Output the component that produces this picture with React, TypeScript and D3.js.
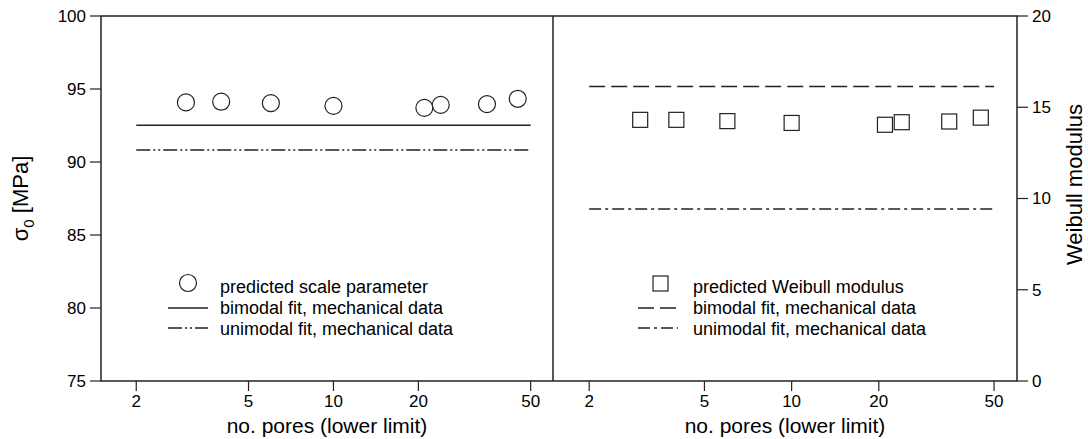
import React from 'react';
import * as d3 from 'd3';

// pore count lower limits and predicted Weibull parameters
const poreCounts = [3, 4, 6, 10, 21, 24, 35, 45];
const scaleParam = [94.08, 94.13, 94.03, 93.84, 93.71, 93.91, 93.96, 94.33];
const weibullModulus = [14.31, 14.31, 14.24, 14.14, 14.04, 14.18, 14.22, 14.43];

// fits to the mechanical data (constant over the pore range)
const fitRange = [2, 50];
const bimodalScale = [92.52, 92.52];
const unimodalScale = [90.82, 90.82];
const bimodalModulus = [16.14, 16.14];
const unimodalModulus = [9.42, 9.42];

const xTicks = [2, 5, 10, 20, 50];
const leftTicks = [75, 80, 85, 90, 95, 100];
const rightTicks = [0, 5, 10, 15, 20];

const FONT = '"Liberation Sans", Arial, Helvetica, sans-serif';
const INK = '#222';

const top = 16;
const bottom = 381;
const x0 = 101;
const xMid = 553;
const x1 = 1017;

const App = () => {
  const xLeft = d3.scaleLog().domain([1.5, 60]).range([x0, xMid]);
  const xRight = d3.scaleLog().domain([1.5, 60]).range([xMid, x1]);
  const yLeft = d3.scaleLinear().domain([75, 100]).range([bottom, top]);
  const yRight = d3.scaleLinear().domain([0, 20]).range([bottom, top]);

  const lineL = d3.line<[number, number]>().x(d => xLeft(d[0])).y(d => yLeft(d[1]));
  const lineR = d3.line<[number, number]>().x(d => xRight(d[0])).y(d => yRight(d[1]));
  const pairs = (ys: number[]) => fitRange.map((x, i) => [x, ys[i]] as [number, number]);

  const sq = 15;

  return (
    <svg width={1088} height={439} style={{ position: 'absolute', left: 0, top: 0, background: '#fff' }}
      fontFamily={FONT}>
      {/* frame */}
      <g stroke={INK} strokeWidth={1.5} fill="none">
        <rect x={x0} y={top} width={x1 - x0} height={bottom - top} />
        <line x1={xMid} x2={xMid} y1={top} y2={bottom} />
      </g>

      {/* left y axis */}
      {leftTicks.map(t => (
        <g key={'l' + t}>
          <line x1={x0 - 11} x2={x0} y1={yLeft(t)} y2={yLeft(t)} stroke={INK} strokeWidth={1.2} />
          <text x={x0 - 15} y={yLeft(t)} dy="0.35em" textAnchor="end" fontSize={17}>{t}</text>
        </g>
      ))}

      {/* right y axis */}
      {rightTicks.map(t => (
        <g key={'r' + t}>
          <line x1={x1} x2={x1 + 11} y1={yRight(t)} y2={yRight(t)} stroke={INK} strokeWidth={1.2} />
          <text x={x1 + 15} y={yRight(t)} dy="0.35em" textAnchor="start" fontSize={17}>{t}</text>
        </g>
      ))}

      {/* x axes */}
      {[xLeft, xRight].map((xs, k) => (
        <g key={'x' + k}>
          {xTicks.map(t => (
            <g key={t}>
              <line x1={xs(t)} x2={xs(t)} y1={bottom} y2={bottom + 10} stroke={INK} strokeWidth={1.2} />
              <text x={xs(t)} y={bottom + 20} dy="0.35em" textAnchor="middle" fontSize={17}>{t}</text>
            </g>
          ))}
          <text x={(xs.range()[0] + xs.range()[1]) / 2} y={433} textAnchor="middle" fontSize={21}>
            no. pores (lower limit)
          </text>
        </g>
      ))}

      {/* axis titles */}
      <text transform={`translate(28,${(top + bottom) / 2}) rotate(-90)`} textAnchor="middle" fontSize={22}>
        σ<tspan fontSize={15} dy={6}>0</tspan><tspan dy={-6}> [MPa]</tspan>
      </text>
      <text transform={`translate(1082,${(top + bottom) / 2 - 14}) rotate(-90)`} textAnchor="middle" fontSize={22}>
        Weibull modulus
      </text>

      {/* left panel data */}
      <path d={lineL(pairs(bimodalScale)) ?? ''} stroke={INK} strokeWidth={1.5} fill="none" />
      <path d={lineL(pairs(unimodalScale)) ?? ''} stroke={INK} strokeWidth={1.5} fill="none"
        strokeDasharray="14 3 2 3 2 3" />
      {poreCounts.map((p, i) => (
        <circle key={'c' + i} cx={xLeft(p)} cy={yLeft(scaleParam[i])} r={8.5} fill="none" stroke={INK} strokeWidth={1.2} />
      ))}

      {/* right panel data */}
      <path d={lineR(pairs(bimodalModulus)) ?? ''} stroke={INK} strokeWidth={1.5} fill="none"
        strokeDasharray="16 6" />
      <path d={lineR(pairs(unimodalModulus)) ?? ''} stroke={INK} strokeWidth={1.5} fill="none"
        strokeDasharray="12 4 3 4" />
      {poreCounts.map((p, i) => (
        <rect key={'s' + i} x={xRight(p) - sq / 2} y={yRight(weibullModulus[i]) - sq / 2} width={sq} height={sq}
          fill="none" stroke={INK} strokeWidth={1.2} />
      ))}

      {/* left legend */}
      <g fontSize={18}>
        <circle cx={188} cy={283} r={8.5} fill="none" stroke={INK} strokeWidth={1.2} />
        <text x={220} y={287} dy="0.35em">predicted scale parameter</text>
        <line x1={168} x2={208} y1={308} y2={308} stroke={INK} strokeWidth={1.5} />
        <text x={220} y={308} dy="0.35em">bimodal fit, mechanical data</text>
        <line x1={168} x2={208} y1={328} y2={328} stroke={INK} strokeWidth={1.5} strokeDasharray="14 3 2 3 2 3" />
        <text x={220} y={329} dy="0.35em">unimodal fit, mechanical data</text>
      </g>

      {/* right legend */}
      <g fontSize={18}>
        <rect x={653} y={276} width={sq} height={sq} fill="none" stroke={INK} strokeWidth={1.2} />
        <text x={693} y={287} dy="0.35em">predicted Weibull modulus</text>
        <line x1={638} x2={678} y1={308} y2={308} stroke={INK} strokeWidth={1.5} strokeDasharray="16 6" />
        <text x={693} y={308} dy="0.35em">bimodal fit, mechanical data</text>
        <line x1={638} x2={678} y1={328} y2={328} stroke={INK} strokeWidth={1.5} strokeDasharray="12 4 3 4" />
        <text x={693} y={329} dy="0.35em">unimodal fit, mechanical data</text>
      </g>
    </svg>
  );
};

export default App;
